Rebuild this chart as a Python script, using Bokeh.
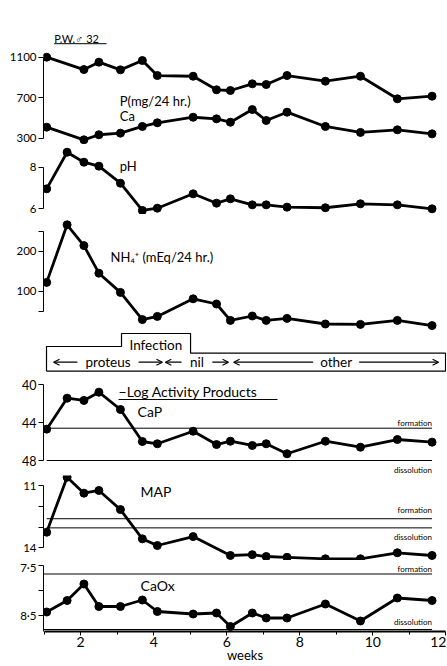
from bokeh.plotting import figure
from bokeh.models import Range1d, FixedTicker, Label, Arrow, OpenHead
from bokeh.layouts import column
from bokeh.embed import file_html
from bokeh.resources import INLINE

# ---------------- data ----------------
weeks = [1.07, 1.63, 2.09, 2.5, 3.09, 3.69, 4.1, 5.08, 5.72, 6.1, 6.7, 7.08,
         7.65, 8.7, 9.66, 10.67, 11.62]
weeks_pca = [1.07, 2.09, 2.5, 3.09, 3.69, 4.1, 5.08, 5.72, 6.1, 6.7, 7.08,
             7.65, 8.7, 9.66, 10.67, 11.62]
weeks_map = [1.07, 1.63, 2.09, 2.5, 3.09, 3.69, 4.1, 5.08, 6.1, 6.7, 7.08,
             7.65, 8.7, 9.66, 10.67, 11.62]

p_mg = [1100, 978, 1051, 975, 1067, 919, 912, 778, 771, 837, 830, 919, 863, 912, 689, 715]
ca_mg = [409, 284, 334, 350, 416, 452, 507, 491, 458, 583, 475, 557, 416, 357, 383, 343]
ph = [6.96, 8.72, 8.24, 8.05, 7.23, 5.92, 6.03, 6.72, 6.27, 6.48, 6.19, 6.19,
      6.08, 6.05, 6.24, 6.19, 6.0]
nh4 = [122, 266, 214, 145, 97, 29, 37, 81, 68, 27, 38, 27, 32, 18, 17, 27, 14]
cap = [44.7, 41.44, 41.68, 40.81, 42.63, 46.0, 46.24, 44.92, 46.32, 45.97, 46.42,
       46.24, 47.29, 45.97, 46.6, 45.79, 46.07]
map_ = [13.25, 10.6, 11.37, 11.24, 12.16, 13.57, 13.89, 13.46, 14.37, 14.33, 14.42,
        14.46, 14.53, 14.53, 14.24, 14.37]
caox = [8.43, 8.2, 7.87, 8.32, 8.32, 8.19, 8.42, 8.47, 8.45, 8.72, 8.45, 8.55, 8.55,
        8.27, 8.61, 8.15, 8.2]

# formation / dissolution levels
cap_levels = [44.6, 48.0]
map_levels = [12.6, 13.04]
caox_levels = [7.67, 8.78]

# infection periods
inf_labels = ["proteus", "nil", "other"]
inf_start = [1.04, 4.1, 5.97]
inf_end = [4.02, 5.83, 11.58]

# tick values / labels
pca_ticks = [300, 700, 1100]
ph_ticks = [6, 8]
nh4_ticks = [50, 100, 200, 250]
nh4_tick_labels = ["", "100", "200", ""]
cap_ticks = [40, 44, 48]
map_ticks = [11, 12, 13, 14]
map_tick_labels = ["11", "", "", "14"]
caox_ticks = [7.5, 8.0, 8.5]
caox_tick_labels = ["7·5", "", "8·5"]
week_ticks = [2, 4, 6, 8, 10, 12]
week_minor = [1, 3, 5, 7, 9, 11]

# ---------------- layout helpers ----------------
FONT = "Lato"
PAGE = 0
PX0 = 7.07     # screen x of week 0
PXW = 36.53    # pixels per week
LB = 43        # left border of the panels
FW = 403       # frame width


def x_range_for(left_border, frame_w):
    s = (PAGE + left_border - PX0) / PXW
    return Range1d(s, s + frame_w / PXW)


def y_range_for(va, pa, vb, pb, top, bot):
    k = (pb - pa) / (vb - va)
    return Range1d(start=va + (bot - pa) / k, end=va + (top - pa) / k)


X = x_range_for(LB, FW)


def panel(top, bot, yrange, ticks, labels=None, bounds=None, tick_font="11.5px",
          xaxis=False):
    p = figure(frame_width=FW, frame_height=bot - top, x_range=X, y_range=yrange,
               output_backend="svg", toolbar_location=None,
               min_border_left=LB, min_border_right=0, min_border_top=0,
               min_border_bottom=0,
               x_axis_location="below" if xaxis else None)
    p.outline_line_color = None
    p.grid.visible = False
    p.background_fill_color = "white"
    ya = p.yaxis[0]
    ya.ticker = FixedTicker(ticks=ticks, minor_ticks=[])
    if labels is not None:
        ya.major_label_overrides = {t: l for t, l in zip(ticks, labels)}
    if bounds is not None:
        ya.bounds = bounds
    ya.axis_line_width = 1
    ya.axis_line_color = "black"
    ya.major_tick_out = 5
    ya.major_tick_in = 0
    ya.major_tick_line_color = "black"
    ya.minor_tick_line_color = None
    ya.major_label_standoff = 2
    ya.major_label_text_font = FONT
    ya.major_label_text_font_size = tick_font
    ya.major_label_text_color = "black"
    return p


def series(p, x, y):
    p.line(x, y, line_width=2.8, color="black", line_join="round")
    p.scatter(x, y, size=8, color="black")


def label(p, x, y, text, size="14px", align="left"):
    p.add_layout(Label(x=x, y=y, text=text, text_font=FONT, text_font_size=size,
                       text_align=align, text_baseline="middle", text_color="black"))


def levels(p, lv, x0, x1, y_form, y_diss):
    for v in lv:
        p.segment(x0=[x0], y0=[v], x1=[x1], y1=[v], line_color="black", line_width=1)
    label(p, x1, y_form, "formation", size="8px", align="right")
    label(p, x1, y_diss, "dissolution", size="8px", align="right")


def blank(frame_w, frame_h, xr, yr, left=0):
    p = figure(frame_width=frame_w, frame_height=frame_h, x_range=xr, y_range=yr,
               output_backend="svg", toolbar_location=None,
               min_border_left=left, min_border_right=0, min_border_top=0,
               min_border_bottom=0, x_axis_location=None, y_axis_location=None)
    p.outline_line_color = None
    p.grid.visible = False
    return p


# ---------------- title strip (0..46 px) ----------------
f0 = blank(446, 46, Range1d(0, 446), Range1d(46, 0))
label(f0, 10.7, 38.0, "P.W.♂ 32", size="11px")
f0.segment(x0=[10.7], y0=[43.2], x1=[63], y1=[43.2], line_color="black", line_width=1)

# ---------------- P / Ca ----------------
f1 = panel(46, 144, y_range_for(1100, 56.7, 300, 137.7, 46, 144), pca_ticks,
           bounds=(300, 1100))
series(f1, weeks_pca, p_mg)
series(f1, weeks_pca, ca_mg)
label(f1, 3.07, 665, "P(mg/24 hr.)", size="13px")
label(f1, 3.07, 524, "Ca", size="13px")

# ---------------- pH ----------------
f2 = panel(144, 214, y_range_for(8, 166.7, 6, 208.3, 144, 214), ph_ticks, bounds=(6, 8))
series(f2, weeks, ph)
label(f2, 3.07, 8.08, "pH", size="13px")

# ---------------- NH4 ----------------
f3 = panel(214, 330, y_range_for(200, 250.7, 100, 290.7, 214, 330), nh4_ticks,
           labels=nh4_tick_labels, bounds=(50, 250))
series(f3, weeks, nh4)
label(f3, 2.82, 185, "NH₄⁺ (mEq/24 hr.)", size="13px")

# ---------------- infection box (330..375 px) ----------------
IB = 35
f4 = blank(FW + (LB - IB), 45, x_range_for(IB, FW + (LB - IB)), Range1d(45, 0), left=IB)
f4.line([0.847, 0.847, 2.90, 2.90, 4.79, 4.79, 11.77, 11.77, 0.847],
        [40.7, 16, 16, 3, 3, 22.7, 22.7, 40.7, 40.7], line_color="black", line_width=1.2)
label(f4, 3.84, 14, "Infection", size="13.5px", align="center")
for name, s, e in zip(inf_labels, inf_start, inf_end):
    mid = (s + e) / 2
    half = (len(name) * 3.8 + 4) / PXW
    label(f4, mid, 31.7, name, size="13.5px", align="center")
    f4.add_layout(Arrow(end=OpenHead(size=6, line_width=1.2), x_start=mid - half, y_start=31.7,
                        x_end=s, y_end=31.7, line_width=1.2))
    f4.add_layout(Arrow(end=OpenHead(size=6, line_width=1.2), x_start=mid + half, y_start=31.7,
                        x_end=e, y_end=31.7, line_width=1.2))

# ---------------- CaP ----------------
f5 = panel(375, 475, y_range_for(40, 384, 48, 460, 375, 475), cap_ticks, bounds=(40, 48),
           tick_font="12.5px")
levels(f5, cap_levels, weeks[0], weeks[-1], 44.07, 49.0)
series(f5, weeks, cap)
label(f5, 3.04, 40.74, "−Log Activity Products")
f5.segment(x0=[3.04], y0=[41.58], x1=[7.39], y1=[41.58], line_color="black", line_width=1)
label(f5, 3.56, 42.81, "CaP")

# ---------------- MAP ----------------
f6 = panel(475, 560, y_range_for(11, 485, 14, 547.3, 475, 560), map_ticks,
           labels=map_tick_labels, bounds=(11, 14))
levels(f6, map_levels, weeks[0], weeks[-1], 12.2, 13.49)
series(f6, weeks_map, map_)
label(f6, 3.64, 11.27, "MAP")

# ---------------- CaOx ----------------
f7 = panel(560, 631, y_range_for(7.5, 565, 8.5, 615, 560, 631), caox_ticks,
           labels=caox_tick_labels, bounds=(7.5, 8.9), xaxis=True)
levels(f7, caox_levels, X.start, weeks[-1], 7.57, 8.63)
series(f7, weeks, caox)
label(f7, 3.64, 7.9, "CaOx")
xa = f7.xaxis[0]
xa.ticker = FixedTicker(ticks=week_ticks, minor_ticks=week_minor)
xa.bounds = (1, 12)
xa.axis_line_width = 2
xa.axis_line_color = "black"
xa.major_tick_out = 4
xa.major_tick_in = 0
xa.minor_tick_out = 3
xa.minor_tick_in = 0
xa.major_label_standoff = 1
xa.major_label_text_font = FONT
xa.major_label_text_font_size = "14px"
xa.major_label_text_color = "black"
xa.axis_label = "weeks"
xa.axis_label_standoff = -3
xa.axis_label_text_font = FONT
xa.axis_label_text_font_size = "13px"
xa.axis_label_text_font_style = "normal"
xa.axis_label_text_color = "black"

layout = column(f0, f1, f2, f3, f4, f5, f6, f7, spacing=0)

open("out.html", "w").write(file_html(layout, INLINE))
